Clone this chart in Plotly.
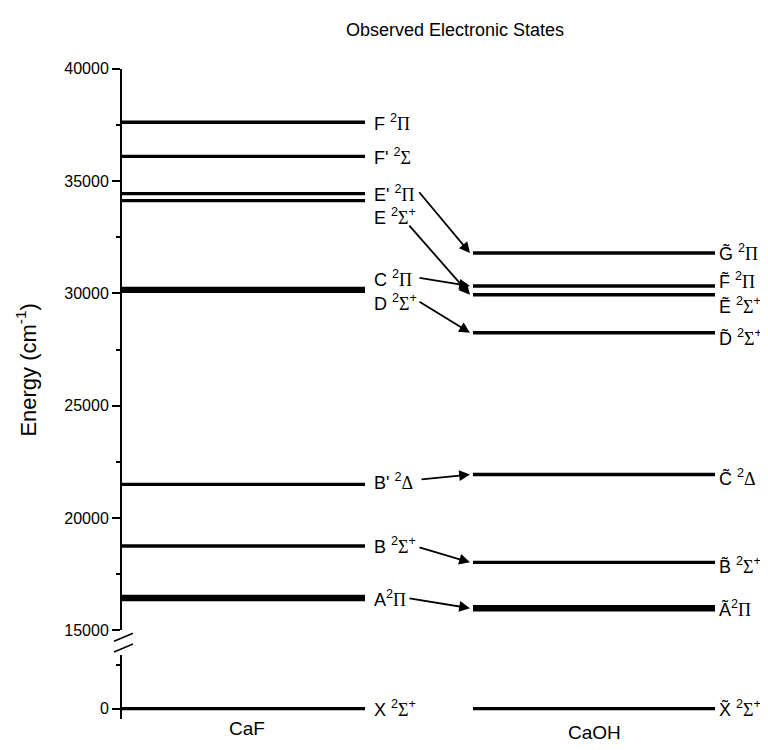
import plotly.graph_objects as go

# ---------------- data ----------------
caf_states = ["X", "A", "B", "B'", "D", "C", "E", "E'", "F'", "F"]
caf_energy = [0, 16440, 18760, 21500, 30100, 30220, 34130, 34440, 36100, 37620]

caoh_states = ["X", "A", "B", "C", "D", "E", "F", "G"]
caoh_energy = [0, 15990, 18030, 21940, 28250, 29940, 30330, 31800]

# correlation arrows: CaF state -> CaOH state
corr_from = ["A", "B", "B'", "D", "C", "E", "E'"]
corr_to = ["A", "B", "C", "D", "F", "E", "G"]

upper_ticks = [15000, 20000, 25000, 30000, 35000, 40000]
upper_minor = [17500, 22500, 27500, 32500, 37500]
lower_ticks = [0]
lower_minor = [1000]
molecules = ["CaF", "CaOH"]
title_text = "Observed Electronic States"
ytitle_text = "Energy (cm<sup>-1</sup>)"


def g(ch):
    return f'<span style="font-family:Liberation Serif">{ch}</span>'


SIG = g("Σ")
PI = g("Π")
DEL = g("Δ")
caf_labels = {
    "X": f"X <sup>2</sup>{SIG}<sup>+</sup>",
    "A": f"A<sup>2</sup>{PI}",
    "B": f"B <sup>2</sup>{SIG}<sup>+</sup>",
    "B'": f"B' <sup>2</sup>{DEL}",
    "D": f"D <sup>2</sup>{SIG}<sup>+</sup>",
    "C": f"C <sup>2</sup>{PI}",
    "E": f"E <sup>2</sup>{SIG}<sup>+</sup>",
    "E'": f"E' <sup>2</sup>{PI}",
    "F'": f"F' <sup>2</sup>{SIG}",
    "F": f"F <sup>2</sup>{PI}",
}
T = "\u0303"
caoh_labels = {
    "X": f"X{T} <sup>2</sup>{SIG}<sup>+</sup>",
    "A": f"A{T}<sup>2</sup>{PI}",
    "B": f"B{T} <sup>2</sup>{SIG}<sup>+</sup>",
    "C": f"C{T} <sup>2</sup>{DEL}",
    "D": f"D{T} <sup>2</sup>{SIG}<sup>+</sup>",
    "E": f"E{T} <sup>2</sup>{SIG}<sup>+</sup>",
    "F": f"F{T} <sup>2</sup>{PI}",
    "G": f"G{T} <sup>2</sup>{PI}",
}

# ---------------- layout constants ----------------
OFF = 8                      # default body margin of the html page
W, H = 768 - 2 * OFF, 750 - 2 * OFF
AXIS_PX = 122                # reference pixel column of the y axis
ML = AXIS_PX - OFF
PX = 100.0                   # pixels per x unit
CAF_X = (0.0, 2.43)
CAOH_X = (3.51, 5.93)
CAF_LBL_X = 2.50
CAOH_LBL_X = 5.95

UP_TOP, UP_BOT = 62 - OFF, 637 - OFF     # rows of 40000 and 15000
LO_TOP, LO_BOT = 662 - OFF, 728 - OFF    # rows of lower segment
UP_RANGE = [15000, 40000]
LO_RANGE = [-244, 1222]
px_per_energy = (UP_BOT - UP_TOP) / (UP_RANGE[1] - UP_RANGE[0])


def pxx(x):  # reference pixel x -> paper
    return (x - OFF - ML) / (W - ML)


def pxy(y):  # reference pixel y -> paper
    return 1 - (y - OFF) / H


thick = {("CaF", "A"), ("CaOH", "A")}
caf_shift = {"E": -16, "C": 10, "D": -11, "B'": 3}
caoh_shift = {"F": 6, "E": -11, "D": -5, "C": -3, "B": -3}
# arrow tail (reference pixel x, pixel offset from CaF level, positive = down)
tail = {"E'": (418, -3), "E": (408, 24), "C": (418, -11), "D": (418, 10),
        "B'": (420, -5), "B": (418, 1), "A": (408, 0)}

FONT = "Liberation Sans, Arial, sans-serif"
LBL = dict(size=18, family=FONT, color="black")

fig = go.Figure()


def add_levels(xs, states, energies, mol):
    for s, e in zip(states, energies):
        ax = "y2" if e < UP_RANGE[0] else "y"
        w = 6.5 if (mol, s) in thick else 3.4
        fig.add_trace(go.Scatter(x=list(xs), y=[e, e], mode="lines",
                                 line=dict(color="black", width=w),
                                 yaxis=ax, showlegend=False, hoverinfo="skip"))


add_levels(CAF_X, caf_states, caf_energy, "CaF")
add_levels(CAOH_X, caoh_states, caoh_energy, "CaOH")

annotations = []
for s, e in zip(caf_states, caf_energy):
    annotations.append(dict(x=CAF_LBL_X, y=e, xref="x", yref="y2" if e < UP_RANGE[0] else "y",
                            text=caf_labels[s], showarrow=False, xanchor="left", yanchor="middle",
                            yshift=caf_shift.get(s, 0), font=LBL))
for s, e in zip(caoh_states, caoh_energy):
    annotations.append(dict(x=CAOH_LBL_X, y=e, xref="x", yref="y2" if e < UP_RANGE[0] else "y",
                            text=caoh_labels[s], showarrow=False, xanchor="left", yanchor="middle",
                            yshift=caoh_shift.get(s, 0), font=LBL))

caf_map = dict(zip(caf_states, caf_energy))
caoh_map = dict(zip(caoh_states, caoh_energy))
for a, b in zip(corr_from, corr_to):
    tx, tdy = tail[a]
    annotations.append(dict(
        x=CAOH_X[0] - 0.03, y=caoh_map[b], xref="x", yref="y",
        ax=(tx - AXIS_PX) / PX, ay=caf_map[a] - tdy / px_per_energy, axref="x", ayref="y",
        text="", showarrow=True, arrowhead=2, arrowsize=1.2, arrowwidth=1.8,
        arrowcolor="black"))

# titles
annotations.append(dict(x=pxx(455), y=pxy(22), xref="paper", yref="paper",
                        text=title_text, showarrow=False, xanchor="center", yanchor="middle",
                        font=dict(size=18, family=FONT, color="black")))
annotations.append(dict(x=pxx(26), y=pxy(370), xref="paper", yref="paper",
                        text=ytitle_text, showarrow=False, textangle=-90,
                        xanchor="center", yanchor="middle",
                        font=dict(size=22, family=FONT, color="black")))
for m, cx, cy in zip(molecules, [247, 594], [737, 741]):
    annotations.append(dict(x=pxx(cx), y=pxy(cy), xref="paper", yref="paper",
                            text=m, showarrow=False, xanchor="center", yanchor="middle",
                            font=dict(size=19, family=FONT, color="black")))

# axis break slashes
shapes = []
for cy in (644, 655):
    shapes.append(dict(type="line", xref="paper", yref="paper",
                       x0=pxx(114), y0=pxy(cy + 4), x1=pxx(133), y1=pxy(cy - 4),
                       line=dict(color="black", width=1.6)))

axis_common = dict(showline=True, linecolor="black", linewidth=2, ticks="outside",
                   ticklen=8, tickwidth=2, tickcolor="black", showgrid=False, zeroline=False,
                   tickfont=dict(size=16, family=FONT, color="black"), anchor="x")

fig.update_layout(
    width=W, height=H, margin=dict(l=ML, r=0, t=0, b=0),
    paper_bgcolor="white", plot_bgcolor="white",
    xaxis=dict(range=[0, (W - ML) / PX], visible=False, domain=[0, 1]),
    yaxis=dict(range=UP_RANGE, domain=[1 - UP_BOT / H, 1 - UP_TOP / H],
               tickvals=upper_ticks, ticktext=[str(t) for t in upper_ticks],
               minor=dict(tickvals=upper_minor, ticklen=4,
                          tickwidth=1.5, tickcolor="black", ticks="outside"),
               **axis_common),
    yaxis2=dict(range=LO_RANGE, domain=[1 - LO_BOT / H, 1 - LO_TOP / H],
                tickvals=lower_ticks, ticktext=[str(t) for t in lower_ticks],
                minor=dict(tickvals=lower_minor, ticklen=4, tickwidth=1.5,
                           tickcolor="black", ticks="outside"),
                **axis_common),
    annotations=annotations, shapes=shapes,
)

fig.write_html("out.html")
